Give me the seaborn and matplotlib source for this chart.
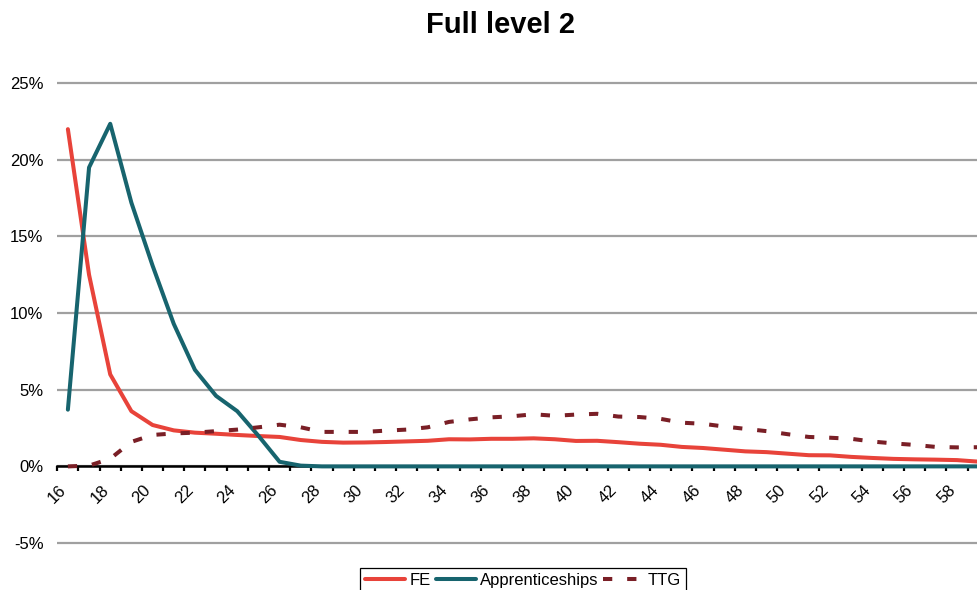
import numpy as np
import pandas as pd
import matplotlib
matplotlib.use("Agg")
import matplotlib.pyplot as plt
import matplotlib.transforms as mtransforms
import seaborn as sns

# Share of learners by age (percent)
ages = list(range(16, 60))
fe = [22.0, 12.5, 6.0, 3.6, 2.7, 2.35, 2.2, 2.13, 2.05, 1.98,
      1.92, 1.72, 1.6, 1.55, 1.56, 1.59, 1.63, 1.67, 1.77, 1.76,
      1.8, 1.8, 1.83, 1.77, 1.66, 1.67, 1.58, 1.48, 1.41, 1.27,
      1.2, 1.09, 0.98, 0.93, 0.83, 0.73, 0.72, 0.62, 0.55, 0.49,
      0.46, 0.44, 0.41, 0.31]
apprenticeships = [3.7, 19.5, 22.35, 17.2, 13.1, 9.3, 6.3, 4.6, 3.6, 2.0,
                   0.3, 0.05] + [0.0] * 32
ttg = [0.0, 0.05, 0.5, 1.6, 2.05, 2.15, 2.2, 2.3, 2.4, 2.55,
       2.72, 2.55, 2.25, 2.25, 2.25, 2.33, 2.4, 2.55, 2.9, 3.07,
       3.2, 3.27, 3.4, 3.3, 3.38, 3.43, 3.25, 3.22, 3.1, 2.85,
       2.78, 2.6, 2.45, 2.3, 2.1, 1.92, 1.87, 1.8, 1.62, 1.5,
       1.4, 1.27, 1.24, 1.25]

y_ticks = [-5, 0, 5, 10, 15, 20, 25]
y_tick_labels = ["-5%", "0%", "5%", "10%", "15%", "20%", "25%"]
x_tick_ages = list(range(16, 60, 2))
title = "Full level 2"

sns.set_style("white")
plt.rcParams["font.family"] = ["Liberation Sans", "DejaVu Sans"]
plt.rcParams["text.color"] = "black"

W, H = 977, 590
FS = 12
fig = plt.figure(figsize=(W / 100, H / 100), dpi=100)
ax = fig.add_axes([57.3 / W, 43.9 / H, 931.5 / W, 466 / H])

df = pd.DataFrame({"age": ages, "FE": fe,
                   "Apprenticeships": apprenticeships, "TTG": ttg})

sns.lineplot(data=df, x="age", y="FE", color="#E8433A", lw=2.9,
             ax=ax, label="FE", zorder=3)
sns.lineplot(data=df, x="age", y="Apprenticeships", color="#17646E", lw=2.9,
             ax=ax, label="Apprenticeships", zorder=4)
sns.lineplot(data=df, x="age", y="TTG", color="#7A1F26", lw=2.9,
             ax=ax, label="TTG", zorder=5, linestyle=(0, (2.3, 3.7)))

# horizontal axis line sits at 0%
for side in ("left", "top", "right"):
    ax.spines[side].set_visible(False)
ax.spines["bottom"].set_position(("data", 0))
ax.spines["bottom"].set_color("black")
ax.spines["bottom"].set_linewidth(1.8)
ax.spines["bottom"].set_zorder(2)

# x axis: tick marks between ages, labels on every other age
ax.set_xlim(15.5, 59.5)
ax.set_xticks(x_tick_ages)
ax.set_xticks(np.arange(15.5, 60, 1), minor=True)
ax.tick_params(axis="x", which="major", length=0, pad=15.5,
               labelsize=FS, colors="black", bottom=True, labelrotation=45)
ax.tick_params(axis="x", which="minor", length=3.8, width=1.6,
               color="black", direction="out", bottom=True)
ax.set_xticklabels([str(a) for a in x_tick_ages])
shift = mtransforms.ScaledTranslation(-4 / 100, 0, fig.dpi_scale_trans)
for lab in ax.get_xticklabels():
    lab.set_rotation(45)
    lab.set_ha("right")
    lab.set_va("center")
    lab.set_rotation_mode("anchor")
    lab.set_transform(lab.get_transform() + shift)
ax.set_xlabel("")

# y axis
ax.set_ylim(-5.2, 25.2)
ax.set_yticks(y_ticks)
ax.tick_params(axis="y", length=0, pad=10, labelsize=FS, colors="black")
ax.set_yticklabels(y_tick_labels)
ax.set_ylabel("")

ax.grid(axis="y", color="#A0A0A0", lw=1.6)
ax.grid(axis="x", visible=False)
ax.set_axisbelow(True)

handles, labels = ax.get_legend_handles_labels()
ax.get_legend().remove()
leg = fig.legend(handles, labels, loc="upper center",
                 bbox_to_anchor=(523 / W, 1 - 567.7 / H), ncol=3,
                 frameon=True, fancybox=False, edgecolor="black",
                 framealpha=1, fontsize=FS, handlelength=2.4,
                 handletextpad=0.25, columnspacing=0.3, borderpad=0.3,
                 borderaxespad=0, labelcolor="black")
leg.get_frame().set_linewidth(0.9)

fig.text(500 / W, 1 - 33.3 / H, title, ha="center", va="baseline",
         fontsize=21, fontweight="bold", color="black")

fig.savefig("out.png", dpi=100)
